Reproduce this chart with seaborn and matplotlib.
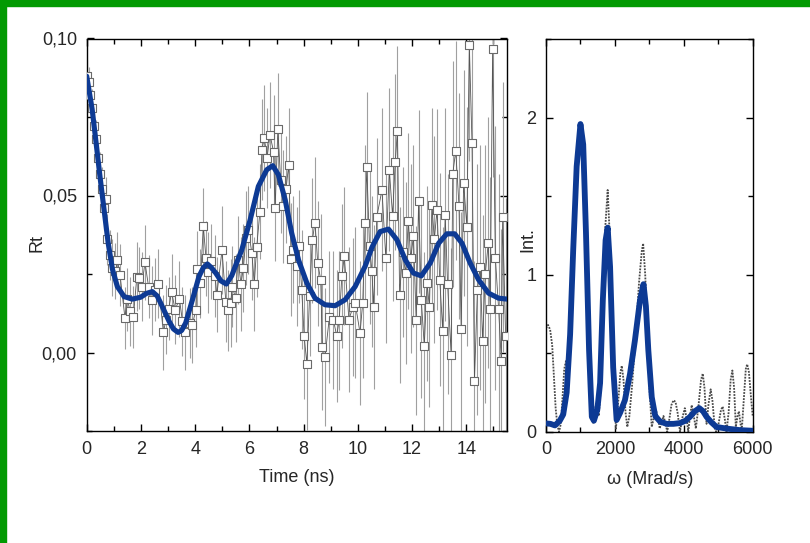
import numpy as np
import pandas as pd
import seaborn as sns
import matplotlib
matplotlib.use("Agg")
import matplotlib.pyplot as plt
from matplotlib import font_manager as fm
from matplotlib.patches import Rectangle
from matplotlib.ticker import MultipleLocator, FuncFormatter

# ---------------- data: left panel (time domain) ----------------
t_data = [0.00, 0.07, 0.14, 0.21, 0.28, 0.35, 0.42, 0.49, 0.56, 0.63,
          0.71, 0.74, 0.85, 0.95, 1.03, 1.13, 1.23, 1.41, 1.50, 1.60,
          1.72, 1.85, 1.93, 2.03, 2.15, 2.28, 2.42, 2.52, 2.64, 2.83,
          2.92, 3.03, 3.13, 3.26, 3.42, 3.53, 3.63, 3.81, 3.90, 4.02,
          4.08, 4.19, 4.30, 4.40, 4.48, 4.60, 4.73, 4.80, 4.99, 5.13,
          5.21, 5.31, 5.37, 5.49, 5.58, 5.69, 5.78, 5.87, 5.96, 6.09,
          6.18, 6.27, 6.39, 6.46, 6.55, 6.65, 6.76, 6.89, 6.95, 7.05,
          7.15, 7.25, 7.35, 7.45, 7.54, 7.62, 7.75, 7.83, 7.93, 8.02,
          8.12, 8.22, 8.32, 8.42, 8.52, 8.63, 8.69, 8.79, 8.95, 9.10,
          9.22, 9.31, 9.41, 9.50, 9.67, 9.82, 9.90, 10.08, 10.18, 10.27,
          10.33, 10.43, 10.52, 10.58, 10.70, 10.89, 11.03, 11.16, 11.28, 11.38,
          11.46, 11.54, 11.65, 11.76, 11.86, 11.95, 12.05, 12.15, 12.24, 12.34,
          12.45, 12.55, 12.64, 12.73, 12.82, 12.92, 13.02, 13.13, 13.22, 13.31,
          13.44, 13.50, 13.61, 13.73, 13.81, 13.90, 14.02, 14.11, 14.21, 14.30,
          14.41, 14.51, 14.60, 14.70, 14.81, 14.88, 14.97, 15.07, 15.19, 15.29,
          15.34, 15.45]
rt_data = [0.088, 0.086, 0.082, 0.078, 0.072, 0.068, 0.062, 0.057, 0.052, 0.046,
           0.049, 0.036, 0.031, 0.027, 0.026, 0.0295, 0.0247, 0.0110, 0.017, 0.0131,
           0.0113, 0.0242, 0.0237, 0.0210, 0.0287, 0.021, 0.0166, 0.020, 0.0219, 0.0064,
           0.0104, 0.014, 0.0194, 0.0136, 0.0170, 0.010, 0.0064, 0.0094, 0.0088, 0.0136,
           0.0266, 0.022, 0.0403, 0.030, 0.0255, 0.029, 0.0244, 0.0184, 0.0326, 0.0162,
           0.0134, 0.0157, 0.0210, 0.0173, 0.0295, 0.0219, 0.027, 0.0364, 0.0391, 0.0317,
           0.0219, 0.0337, 0.0449, 0.0646, 0.0683, 0.062, 0.0693, 0.0640, 0.0460, 0.0711,
           0.055, 0.0465, 0.052, 0.0598, 0.0297, 0.0327, 0.0274, 0.0338, 0.020, 0.0051,
           -0.0036, 0.018, 0.0357, 0.0414, 0.0284, 0.0232, 0.0018, -0.0013, 0.0113, 0.0103,
           0.0053, 0.0102, 0.0243, 0.0306, 0.0105, 0.0145, 0.0159, 0.0062, 0.0159, 0.0412,
           0.0590, 0.034, 0.0258, 0.0145, 0.0433, 0.0518, 0.0301, 0.0582, 0.0435, 0.0608,
           0.0707, 0.0184, 0.032, 0.0253, 0.0420, 0.030, 0.0372, 0.0102, 0.0481, 0.0166,
           0.0021, 0.022, 0.0145, 0.0469, 0.036, 0.0454, 0.0232, 0.0069, 0.0439, 0.0217,
           -0.0008, 0.0569, 0.0643, 0.0467, 0.0076, 0.0540, 0.0401, 0.0980, 0.0667, -0.0090,
           0.020, 0.0272, 0.0038, 0.025, 0.0350, 0.0138, 0.0968, 0.0302, 0.0140, -0.0026,
           0.0431, 0.0051]
rt_err = [0.005, 0.005, 0.005, 0.006, 0.006, 0.006, 0.006, 0.007, 0.007, 0.007,
          0.007, 0.008, 0.008, 0.009, 0.009, 0.009, 0.010, 0.010, 0.010, 0.011,
          0.010, 0.011, 0.010, 0.011, 0.012, 0.010, 0.011, 0.010, 0.011, 0.012,
          0.011, 0.010, 0.012, 0.011, 0.012, 0.011, 0.012, 0.011, 0.012, 0.012,
          0.012, 0.011, 0.012, 0.012, 0.013, 0.012, 0.013, 0.012, 0.014, 0.013,
          0.013, 0.014, 0.013, 0.014, 0.014, 0.015, 0.014, 0.015, 0.014, 0.015,
          0.015, 0.016, 0.015, 0.016, 0.017, 0.016, 0.017, 0.018, 0.017, 0.018,
          0.017, 0.018, 0.017, 0.018, 0.018, 0.017, 0.019, 0.018, 0.019, 0.020,
          0.021, 0.019, 0.020, 0.021, 0.020, 0.021, 0.020, 0.022, 0.021, 0.022,
          0.021, 0.022, 0.023, 0.022, 0.023, 0.022, 0.024, 0.023, 0.024, 0.025,
          0.024, 0.025, 0.024, 0.026, 0.025, 0.026, 0.027, 0.026, 0.027, 0.028,
          0.027, 0.028, 0.027, 0.029, 0.028, 0.030, 0.029, 0.030, 0.029, 0.031,
          0.030, 0.031, 0.032, 0.031, 0.033, 0.032, 0.034, 0.033, 0.034, 0.035,
          0.034, 0.036, 0.035, 0.036, 0.037, 0.036, 0.038, 0.037, 0.039, 0.038,
          0.040, 0.039, 0.040, 0.041, 0.040, 0.042, 0.041, 0.042, 0.043, 0.042,
          0.043, 0.044]

t_fit = [0.00, 0.20, 0.33, 0.49, 0.64, 0.79, 0.95, 1.13, 1.38, 1.68,
         1.99, 2.20, 2.42, 2.60, 2.73, 3.04, 3.20, 3.37, 3.50, 3.65,
         3.90, 4.14, 4.30, 4.45, 4.60, 4.76, 4.95, 5.15, 5.35, 5.55,
         5.72, 6.03, 6.33, 6.64, 6.86, 7.07, 7.32, 7.56, 7.81, 8.12,
         8.42, 8.79, 9.16, 9.53, 9.90, 10.27, 10.52, 10.82, 11.13, 11.44,
         11.75, 12.05, 12.34, 12.67, 12.98, 13.28, 13.57, 13.84, 14.14, 14.45,
         14.82, 15.19, 15.50]
rt_fit = [0.0880, 0.0775, 0.0680, 0.0560, 0.0455, 0.0350, 0.0265, 0.0210, 0.0178, 0.0170,
          0.0176, 0.0188, 0.0194, 0.0180, 0.0157, 0.0099, 0.0075, 0.0064, 0.0070, 0.0094,
          0.0168, 0.0242, 0.0270, 0.0282, 0.0270, 0.0253, 0.0228, 0.0218, 0.0245, 0.0290,
          0.0327, 0.0423, 0.0529, 0.0582, 0.0595, 0.0566, 0.0486, 0.0380, 0.0295, 0.0221,
          0.0173, 0.0152, 0.0149, 0.0168, 0.0210, 0.0275, 0.0335, 0.0385, 0.0393, 0.0359,
          0.0295, 0.0253, 0.0244, 0.0285, 0.0348, 0.0378, 0.0378, 0.0348, 0.0285, 0.0232,
          0.0189, 0.0173, 0.0170]

# ---------------- data: right panel (frequency domain) ----------------
w_raw = [0, 60, 120, 180, 230, 280, 330, 380, 430, 480,
         530, 580, 620, 660, 700, 800, 900, 1000, 1100, 1200,
         1300, 1370, 1430, 1470, 1530, 1580, 1650, 1720, 1790, 1850,
         1920, 1980, 2030, 2100, 2160, 2200, 2250, 2310, 2360, 2420,
         2500, 2600, 2700, 2780, 2820, 2880, 2950, 3010, 3070, 3140,
         3200, 3260, 3300, 3360, 3410, 3460, 3520, 3580, 3640, 3700,
         3760, 3820, 3890, 3960, 4030, 4090, 4130, 4180, 4230, 4290,
         4350, 4420, 4500, 4550, 4600, 4660, 4720, 4780, 4830, 4900,
         4940, 5000, 5080, 5130, 5190, 5240, 5300, 5360, 5410, 5460,
         5510, 5560, 5600, 5640, 5680, 5740, 5800, 5840, 5890, 5950,
         6000]
int_raw = [0.66, 0.68, 0.65, 0.55, 0.35, 0.15, 0.04, 0.00, 0.05, 0.22,
           0.40, 0.45, 0.40, 0.45, 0.70, 1.20, 1.70, 1.95, 1.75, 1.00,
           0.30, 0.05, 0.15, 0.19, 0.10, 0.25, 0.80, 1.30, 1.54, 1.25,
           0.70, 0.25, 0.02, 0.20, 0.38, 0.42, 0.33, 0.12, 0.03, 0.10,
           0.30, 0.60, 0.95, 1.15, 1.20, 1.00, 0.60, 0.25, 0.03, 0.10,
           0.13, 0.08, 0.02, 0.06, 0.10, 0.06, 0.00, 0.08, 0.17, 0.20,
           0.19, 0.12, 0.00, 0.09, 0.15, 0.07, 0.00, 0.10, 0.17, 0.10,
           0.02, 0.15, 0.33, 0.37, 0.28, 0.05, 0.18, 0.27, 0.20, 0.02,
           0.00, 0.04, 0.14, 0.16, 0.08, 0.00, 0.12, 0.33, 0.39, 0.28,
           0.03, 0.10, 0.13, 0.06, 0.00, 0.20, 0.40, 0.43, 0.38, 0.22,
           0.10]

w_fit = [0, 130, 260, 400, 500, 600, 700, 790, 890, 1000,
         1080, 1160, 1250, 1330, 1390, 1490, 1570, 1650, 1730, 1790,
         1860, 1950, 2050, 2150, 2290, 2440, 2580, 2730, 2830, 2900,
         2970, 3070, 3170, 3310, 3500, 3700, 3890, 4050, 4180, 4320,
         4450, 4560, 4660, 4800, 4950, 5240, 5630, 6000]
int_fit = [0.053, 0.050, 0.040, 0.070, 0.110, 0.250, 0.620, 1.160, 1.690, 1.960,
           1.830, 1.270, 0.520, 0.095, 0.070, 0.140, 0.310, 0.840, 1.220, 1.300,
           1.050, 0.410, 0.075, 0.120, 0.200, 0.370, 0.580, 0.840, 0.940, 0.800,
           0.520, 0.220, 0.100, 0.065, 0.050, 0.050, 0.055, 0.070, 0.095, 0.130,
           0.150, 0.130, 0.095, 0.060, 0.030, 0.020, 0.010, 0.006]

# ---------------- styling ----------------
sns.set_theme(style="ticks")
names = {f.name for f in fm.fontManager.ttflist}
if "Liberation Sans Narrow" in names:
    FONT, FS = "Liberation Sans Narrow", 15.5
else:
    FONT, FS = "Liberation Sans", 13
plt.rcParams["font.family"] = [FONT, "DejaVu Sans"]
plt.rcParams["axes.linewidth"] = 1.0

BLUE = "#0d3a94"
fig = plt.figure(figsize=(8.10, 5.43), dpi=100)
fig.patch.set_facecolor("white")

ax1 = fig.add_axes([86.7 / 810, 1 - 431 / 543, (507 - 86.7) / 810, (431 - 38.5) / 543])
ax2 = fig.add_axes([546 / 810, 1 - 431.7 / 543, (752.7 - 546) / 810, (431.7 - 39.3) / 543])

# left panel
df_pts = pd.DataFrame({"t": t_data, "rt": rt_data, "err": rt_err})
df_fit = pd.DataFrame({"t": t_fit, "rt": rt_fit})
ax1.errorbar(df_pts["t"], df_pts["rt"], yerr=df_pts["err"], fmt="none",
             ecolor="#a0a0a0", elinewidth=0.8, capsize=0, zorder=1)
sns.lineplot(data=df_pts, x="t", y="rt", ax=ax1, color="#555555", lw=0.6,
             estimator=None, sort=True, zorder=2)
sns.scatterplot(data=df_pts, x="t", y="rt", ax=ax1, marker="s", s=34,
                facecolor="white", edgecolor="#6a6a6a", linewidth=0.8, zorder=3)
sns.lineplot(data=df_fit, x="t", y="rt", ax=ax1, color=BLUE, lw=3.7,
             estimator=None, sort=True, zorder=4)
ax1.set_xlim(0, 15.5)
ax1.set_ylim(-0.025, 0.10)
ax1.xaxis.set_major_locator(MultipleLocator(2))
ax1.xaxis.set_minor_locator(MultipleLocator(1))
ax1.yaxis.set_major_locator(MultipleLocator(0.05))
ax1.yaxis.set_minor_locator(MultipleLocator(0.025))
ax1.yaxis.set_major_formatter(FuncFormatter(lambda v, p: f"{abs(v) if abs(v) < 1e-9 else v:.2f}".replace(".", ",")))
ax1.set_xlabel("Time (ns)", fontsize=FS)
ax1.set_ylabel("Rt", fontsize=FS)
ax1.xaxis.set_label_coords(0.5, -0.097)
ax1.yaxis.set_label_coords(-0.099, 0.478)

# right panel
df_raw = pd.DataFrame({"w": w_raw, "I": int_raw})
df_wf = pd.DataFrame({"w": w_fit, "I": int_fit})
sns.lineplot(data=df_raw, x="w", y="I", ax=ax2, color="#4a4a4a", lw=1.3,
             linestyle=(0, (1, 0.7)), estimator=None, sort=True, zorder=2)
sns.lineplot(data=df_wf, x="w", y="I", ax=ax2, color=BLUE, lw=4.2,
             estimator=None, sort=True, zorder=4)
ax2.set_xlim(0, 6000)
ax2.set_ylim(0, 2.5)
ax2.xaxis.set_major_locator(MultipleLocator(2000))
ax2.xaxis.set_minor_locator(MultipleLocator(1000))
ax2.yaxis.set_major_locator(MultipleLocator(1))
ax2.yaxis.set_minor_locator(MultipleLocator(0.5))
ax2.set_xlabel("ω (Mrad/s)", fontsize=FS)
ax2.set_ylabel("Int.", fontsize=FS)
ax2.xaxis.set_label_coords(0.503, -0.10)
ax2.yaxis.set_label_coords(-0.045, 0.49)

for ax in (ax1, ax2):
    ax.set_facecolor("white")
    for s in ax.spines.values():
        s.set_visible(True)
        s.set_color("black")
        s.set_linewidth(1.0)
    ax.tick_params(which="both", direction="in", top=True, right=True,
                   color="black", width=1.0, labelsize=FS, pad=7)
    ax.tick_params(which="major", length=5)
    ax.tick_params(which="minor", length=3.5)

# green frame (top and left)
fig.add_artist(Rectangle((0, 1 - 6 / 543), 1, 6 / 543, transform=fig.transFigure,
                         color="#029a02", zorder=10))
fig.add_artist(Rectangle((0, 0), 6 / 810, 1, transform=fig.transFigure,
                         color="#029a02", zorder=10))

fig.savefig("out.png", dpi=100, facecolor="white")
